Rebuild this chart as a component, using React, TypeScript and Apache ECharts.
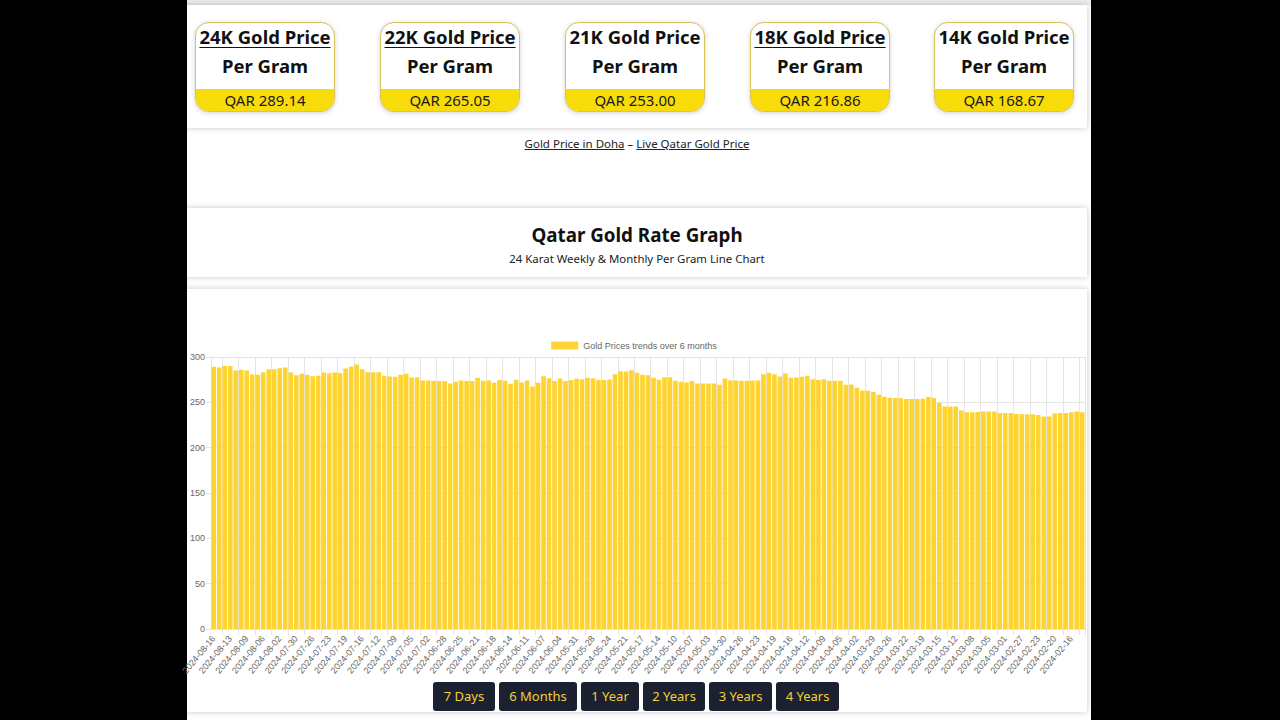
import React, { useEffect, useRef } from "react";
import * as echarts from "echarts";

// ---------- data ----------
const CARD_TITLES = ["24K Gold Price", "22K Gold Price", "21K Gold Price", "18K Gold Price", "14K Gold Price"];
const CARD_LINKED = [true, true, false, true, false];
const CARD_PRICES = ["QAR 289.14", "QAR 265.05", "QAR 253.00", "QAR 216.86", "QAR 168.67"];
const RANGE_BUTTONS = ["7 Days", "6 Months", "1 Year", "2 Years", "3 Years", "4 Years"];
const LEGEND_LABEL = "Gold Prices trends over 6 months";

const AUG_DAYS = [16, 15, 14, 13, 12, 11, 9, 8, 7, 6, 5, 4, 2, 1];
const JUL_DAYS = [31, 30, 29, 28, 26, 25, 24, 23, 22, 21, 19, 18, 17, 16, 15, 14, 12, 11, 10, 9, 8, 7, 5, 4, 3, 2, 1];
const JUN_DAYS = [30, 28, 27, 26, 25, 24, 23, 21, 20, 19, 18, 17, 16, 14, 13, 12, 11, 10, 9, 7, 6, 5, 4, 3, 2];
const MAY_DAYS = [31, 30, 29, 28, 27, 26, 24, 23, 22, 21, 20, 19, 17, 16, 15, 14, 13, 12, 10, 9, 8, 7, 6, 5, 3, 2, 1];
const APR_DAYS = [30, 29, 28, 26, 25, 24, 23, 22, 21, 19, 18, 17, 16, 15, 14, 12, 11, 10, 9, 8, 7, 5, 4, 3, 2, 1];
const MAR_DAYS = [31, 29, 28, 27, 26, 25, 24, 22, 21, 20, 19, 18, 17, 15, 14, 13, 12, 11, 10, 8, 7, 6, 5, 4, 3, 1];
const FEB_DAYS = [29, 28, 27, 26, 25, 23, 22, 21, 20, 19, 18, 16, 15, 14];

const PRICES = [
  289.14, 288.3, 290.1, 290.1, 285.0, 285.8, 285.0, 280.7, 280.3, 283.2,
  286.5, 286.5, 287.6, 288.3, 282.8, 279.9, 281.4, 280.3, 278.8, 279.2,
  282.8, 282.1, 282.8, 282.1, 287.2, 289.4, 291.6, 286.5, 283.2, 283.2,
  283.2, 279.2, 278.5, 278.1, 280.3, 281.4, 277.4, 277.7, 274.1, 274.1,
  273.7, 273.4, 273.4, 270.8, 272.6, 274.1, 273.4, 273.4, 277.0, 273.7,
  274.1, 271.5, 274.5, 273.7, 270.4, 274.8, 271.9, 274.1, 267.5, 271.5,
  278.8, 276.6, 273.4, 276.3, 273.4, 274.5, 275.9, 275.5, 277.0, 276.6,
  274.5, 274.5, 275.2, 281.0, 284.3, 283.9, 285.4, 282.5, 280.3, 279.9,
  277.0, 274.8, 277.7, 277.7, 273.7, 272.6, 271.9, 273.4, 270.8, 270.8,
  270.8, 270.8, 269.3, 276.3, 274.1, 274.1, 273.7, 273.7, 274.1, 274.1,
  281.0, 282.5, 281.0, 278.5, 281.8, 277.0, 277.5, 278.1, 279.2, 275.5,
  274.5, 275.5, 273.7, 273.7, 273.7, 269.3, 269.7, 266.1, 263.1, 262.8,
  261.3, 258.4, 256.2, 255.1, 254.7, 254.4, 253.6, 253.6, 253.6, 254.0,
  255.8, 254.7, 249.3, 245.3, 245.3, 245.3, 240.9, 239.1, 239.1, 239.4,
  239.8, 239.8, 239.8, 238.3, 238.3, 238.3, 237.2, 236.9, 236.9, 236.9,
  236.1, 234.3, 234.3, 237.6, 238.3, 238.3, 239.1, 239.8, 239.1,
];

const pad = (n: number) => (n < 10 ? "0" + n : "" + n);
const monthDates = (m: string, days: number[]) => days.map((d) => `2024-${m}-${pad(d)}`);
const DATES = [
  ...monthDates("08", AUG_DAYS),
  ...monthDates("07", JUL_DAYS),
  ...monthDates("06", JUN_DAYS),
  ...monthDates("05", MAY_DAYS),
  ...monthDates("04", APR_DAYS),
  ...monthDates("03", MAR_DAYS),
  ...monthDates("02", FEB_DAYS),
];

// ---------- styles ----------
const PAGE_FONT = "'Noto Sans', 'Open Sans', sans-serif";
const CHART_FONT = "'Liberation Sans', Arial, sans-serif";
const GRID = "#e5e5e5";
const BAR = "#FDD431";
const NAVY = "#1b2130";
const BTN_TEXT = "#f2cf3c";
const PANEL_SHADOW = "0 0 6px rgba(0,0,0,0.22)";

function PriceCard({ title, linked, price }: { title: string; linked: boolean; price: string }) {
  return (
    <div
      style={{
        width: 140,
        height: 90,
        boxSizing: "border-box",
        border: "1px solid #d9c25a",
        borderRadius: 14,
        overflow: "hidden",
        background: "#fff",
        boxShadow: "0 1px 5px rgba(0,0,0,0.18)",
        display: "flex",
        flexDirection: "column",
        alignItems: "center",
      }}
    >
      <div
        style={{
          fontWeight: 700,
          fontSize: 18.5,
          lineHeight: "22px",
          marginTop: 3,
          color: "#111",
          whiteSpace: "nowrap",
          textDecoration: linked ? "underline" : "none",
          textUnderlineOffset: 3,
        }}
      >
        {title}
      </div>
      <div style={{ fontWeight: 700, fontSize: 18.5, lineHeight: "22px", marginTop: 7, color: "#111" }}>Per Gram</div>
      <div
        style={{
          marginTop: "auto",
          width: "100%",
          height: 22,
          background: "#f7dc0a",
          textAlign: "center",
          fontSize: 15,
          lineHeight: "23px",
          color: "#1a1a1a",
        }}
      >
        {price}
      </div>
    </div>
  );
}

function GoldChart() {
  const ref = useRef<HTMLDivElement>(null);
  useEffect(() => {
    if (!ref.current) return;
    const chart = echarts.init(ref.current, undefined, { renderer: "svg" });
    const everyThird = (i: number) => i % 3 === 0;
    const boundary = (i: number) => i % 3 === 2;
    chart.setOption({
      animation: false,
      textStyle: { fontFamily: CHART_FONT },
      legend: {
        show: true,
        top: 47,
        left: "center",
        icon: "rect",
        itemWidth: 27,
        itemHeight: 8,
        itemGap: 10,
        textStyle: { fontSize: 9, color: "#666", fontFamily: CHART_FONT },
        data: [LEGEND_LABEL],
      },
      grid: { left: 30, top: 68, width: 874, height: 272, containLabel: false, outerBoundsMode: "none" },
      xAxis: {
        type: "category",
        data: DATES,
        boundaryGap: true,
        axisLine: { show: true, lineStyle: { color: GRID } },
        axisTick: { show: true, interval: boundary, length: 6, lineStyle: { color: GRID } },
        splitLine: { show: true, interval: boundary, lineStyle: { color: GRID, width: 1 } },
        axisLabel: {
          interval: everyThird,
          rotate: 50,
          fontSize: 9,
          color: "#666",
          margin: 8,
          fontFamily: CHART_FONT,
        },
      },
      yAxis: {
        type: "value",
        min: 0,
        max: 300,
        interval: 50,
        axisLine: { show: true, lineStyle: { color: GRID } },
        axisTick: { show: true, length: 5, lineStyle: { color: GRID } },
        splitLine: { show: true, lineStyle: { color: GRID } },
        axisLabel: { fontSize: 9, color: "#666", margin: 6, fontFamily: CHART_FONT },
      },
      series: [
        {
          name: LEGEND_LABEL,
          type: "bar",
          data: PRICES,
          barCategoryGap: "16%",
          itemStyle: { color: BAR },
        },
      ],
    });
    return () => chart.dispose();
  }, []);
  return <div ref={ref} style={{ position: "absolute", left: 181, top: 289, width: 906, height: 392 }} />;
}

export default function App() {
  const cardLefts = [195, 380, 565, 750, 934];
  const btnWidths = [62, 78, 58, 62, 63, 63];
  return (
    <div
      style={{
        position: "fixed",
        left: 0,
        top: 0,
        width: 1280,
        height: 720,
        background: "#000",
        fontFamily: PAGE_FONT,
        overflow: "hidden",
      }}
    >
      <div style={{ position: "absolute", left: 187, top: 0, width: 904, height: 720, background: "#fff", overflow: "hidden" }}>
        {/* top band shadow */}
        <div style={{ position: "absolute", left: 0, top: 0, width: 904, height: 5, background: "#ececec" }} />
        {/* panel 1 */}
        <div style={{ position: "absolute", left: -4, top: 5, width: 904, height: 123, background: "#fff", boxShadow: PANEL_SHADOW }} />
        {CARD_TITLES.map((t, i) => (
          <div key={t} style={{ position: "absolute", left: cardLefts[i] - 187, top: 22 }}>
            <PriceCard title={t} linked={CARD_LINKED[i]} price={CARD_PRICES[i]} />
          </div>
        ))}
        <div
          style={{
            position: "absolute",
            left: 0,
            width: 900,
            top: 135,
            textAlign: "center",
            fontSize: 11.5,
            lineHeight: "18px",
            color: "#222",
          }}
        >
          <span style={{ textDecoration: "underline" }}>Gold Price in Doha</span>
          {" \u2013 "}
          <span style={{ textDecoration: "underline" }}>Live Qatar Gold Price</span>
        </div>
        {/* panel 2 */}
        <div
          style={{
            position: "absolute",
            left: -4,
            top: 208,
            width: 904,
            height: 69,
            background: "#fff",
            boxShadow: PANEL_SHADOW,
            textAlign: "center",
            paddingLeft: 4,
            boxSizing: "border-box",
          }}
        >
          <div style={{ fontWeight: 700, fontSize: 18.8, lineHeight: "26px", marginTop: 14, color: "#111" }}>Qatar Gold Rate Graph</div>
          <div style={{ fontSize: 11.4, lineHeight: "16px", marginTop: 3, color: "#222" }}>24 Karat Weekly &amp; Monthly Per Gram Line Chart</div>
        </div>
        {/* panel 3 */}
        <div style={{ position: "absolute", left: -4, top: 289, width: 904, height: 423, background: "#fff", boxShadow: PANEL_SHADOW }} />
      </div>
      <GoldChart />
      <div style={{ position: "absolute", left: 433, top: 682, display: "flex", gap: 4 }}>
        {RANGE_BUTTONS.map((b, i) => (
          <div
            key={b}
            style={{
              width: btnWidths[i],
              height: 29,
              background: NAVY,
              color: BTN_TEXT,
              borderRadius: 3,
              fontSize: 13,
              lineHeight: "29px",
              textAlign: "center",
              whiteSpace: "nowrap",
            }}
          >
            {b}
          </div>
        ))}
      </div>
    </div>
  );
}
